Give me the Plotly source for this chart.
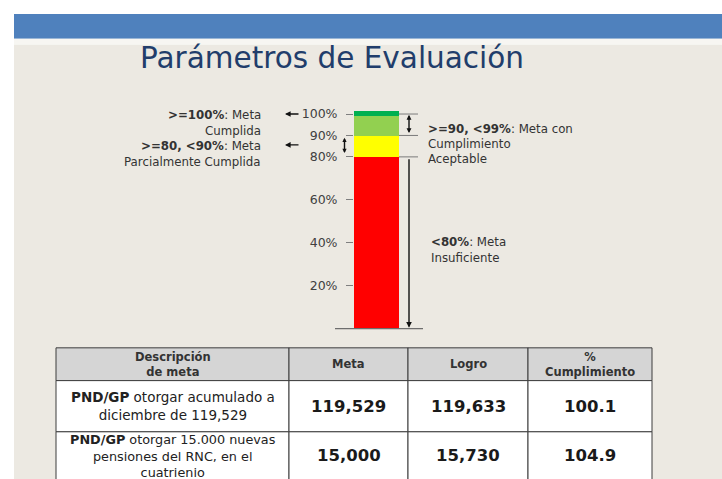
import plotly.graph_objects as go

W, H = 722, 479
FONT = "DejaVu Sans"

# ---------------- data ----------------
title_text = "Parámetros de Evaluación"

segment_names = ["<80%", ">=80, <90%", ">=90, <99%", ">=100%"]
segment_values = [80, 10, 9, 2.5]
segment_colors = ["#FF0000", "#FFFF00", "#92D050", "#00B050"]

tick_values = [20, 40, 60, 80, 90, 100]
tick_labels = ["20%", "40%", "60%", "80%", "90%", "100%"]

text_100 = ["<b>&gt;=100%</b>: Meta", "Cumplida"]
text_80_90 = ["<b>&gt;=80, &lt;90%</b>: Meta", "Parcialmente Cumplida"]
text_90_99 = ["<b>&gt;=90, &lt;99%</b>: Meta con", "Cumplimiento", "Aceptable"]
text_lt80 = ["<b>&lt;80%</b>: Meta", "Insuficiente"]

table_header = [["Descripción", "de meta"], ["Meta"], ["Logro"], ["%", "Cumplimiento"]]
descriptions = [
    ["<b>PND/GP</b> otorgar acumulado a", "diciembre de 119,529"],
    ["<b>PND/GP</b> otorgar 15.000 nuevas", "pensiones del RNC, en el", "cuatrienio"],
]
metas = [119529, 15000]
logros = [119633, 15730]
cumplimiento = [100.1, 104.9]

# ---------------- helpers (layout only) ----------------
def px(x):
    return x / W

def py(y):
    return 1 - y / H

fig = go.Figure()

# stacked bar
for name, v, c in zip(segment_names, segment_values, segment_colors):
    fig.add_trace(go.Bar(x=[0], y=[v], name=name, marker=dict(color=c, line=dict(width=0)),
                         showlegend=False, hoverinfo="skip"))

shapes = []
# backgrounds
shapes.append(dict(type="rect", xref="paper", yref="paper", x0=px(14), x1=1, y0=py(11), y1=py(36),
                   fillcolor="#4F81BD", line=dict(width=0), layer="below"))
shapes.append(dict(type="rect", xref="paper", yref="paper", x0=px(14), x1=1, y0=py(36), y1=py(42),
                   fillcolor="#F7F6F2", line=dict(width=0), layer="below"))
shapes.append(dict(type="rect", xref="paper", yref="paper", x0=px(14), x1=1, y0=0, y1=py(42),
                   fillcolor="#ECE9E2", line=dict(width=0), layer="below"))
# baseline
shapes.append(dict(type="line", xref="paper", yref="paper", x0=px(335), x1=px(423),
                   y0=py(327.6), y1=py(327.6), line=dict(color="#6E6E6E", width=1.2)))
# right guide lines at 100, 90, 80
for v in [100, 90, 80]:
    shapes.append(dict(type="line", xref="paper", yref="y", x0=px(399), x1=px(418),
                       y0=v, y1=v, line=dict(color="#7A7A7A", width=1)))

annotations = []

def arrow(x, y, ay=None, ax_px=0, both=False, size=0.8):
    d = dict(x=x, y=y, xref="paper", yref="y", text="", showarrow=True,
             arrowhead=2, startarrowhead=2, arrowsize=size, startarrowsize=size,
             arrowwidth=1.4, arrowcolor="#111111", standoff=0, startstandoff=0,
             arrowside="end+start" if both else "end")
    if ay is not None:
        d.update(axref="pixel", ax=ax_px, ayref="y", ay=ay)
    else:
        d.update(axref="pixel", ax=ax_px, ayref="pixel", ay=0)
    annotations.append(d)

arrow(px(409), 99.6, ay=90.4, both=True, size=0.7)
arrow(px(409), 0.3, ay=79.6, size=0.8)
arrow(px(344.5), 88.9, ay=81.1, both=True, size=0.6)
arrow(px(285), 100, ax_px=15, size=0.8)
arrow(px(285), 85.6, ax_px=15, size=0.8)

def text_lines(lines, x, ys, anchor, size, color="#333333", xref="paper", yref="paper"):
    for line, y in zip(lines, ys):
        annotations.append(dict(x=x, y=y, xref=xref, yref=yref, text=line, showarrow=False,
                                xanchor=anchor, yanchor="middle",
                                font=dict(family=FONT, size=size, color=color)))

def text_block(lines, x, y, anchor, size, color, xref, yref):
    annotations.append(dict(x=x, y=y, xref=xref, yref=yref, text="<br>".join(lines),
                            showarrow=False, xanchor=anchor, yanchor="middle", align="center",
                            font=dict(family=FONT, size=size, color=color)))

text_lines(text_100, px(263), [py(112.5), py(128.5)], "right", 11.8)
text_lines(text_80_90, px(263), [py(144), py(159.5)], "right", 11.8)
text_lines(text_90_99, px(426), [py(127), py(142), py(157)], "left", 11.8)
text_lines(text_lt80, px(429), [py(241), py(256.5)], "left", 11.8)

# title
annotations.append(dict(x=px(332), y=py(55), xref="paper", yref="paper", text=title_text,
                        showarrow=False, xanchor="center", yanchor="middle",
                        font=dict(family=FONT, size=29.5, color="#213D6B")))

# ---------------- table ----------------
col_widths = [233, 119, 120, 124]
row_heights = [33, 51.5, 48.5]
col_edges = [0]
for w in col_widths:
    col_edges.append(col_edges[-1] + w)
row_edges = [0]
for h in row_heights:
    row_edges.append(row_edges[-1] + h)

body_rows = []
for d, m, l, c in zip(descriptions, metas, logros, cumplimiento):
    body_rows.append([d, [f"<b>{m:,}</b>"], [f"<b>{l:,}</b>"], [f"<b>{c:.1f}</b>"]])

all_rows = [[[f"<b>{t}</b>" for t in cell] for cell in table_header]] + body_rows

for r in range(len(all_rows)):
    for ci in range(len(col_widths)):
        shapes.append(dict(type="rect", xref="x2", yref="y2",
                           x0=col_edges[ci], x1=col_edges[ci + 1],
                           y0=row_edges[r], y1=row_edges[r + 1],
                           fillcolor="#D5D5D5" if r == 0 else "#FFFFFF",
                           line=dict(color="#3C3C3C", width=1)))
        lines = all_rows[r][ci]
        cx = (col_edges[ci] + col_edges[ci + 1]) / 2
        cy = (row_edges[r] + row_edges[r + 1]) / 2
        if r == 0:
            size, color = 11.5, "#333333"
        elif ci == 0:
            size, color = (13.5 if len(lines) == 2 else 12.8), "#222222"
        else:
            size, color = 16.5, "#1A1A1A"
        text_block(lines, cx, cy, "center", size, color, "x2", "y2")

fig.update_layout(
    width=W, height=H,
    margin=dict(l=0, r=0, t=0, b=0),
    paper_bgcolor="#FFFFFF",
    plot_bgcolor="rgba(0,0,0,0)",
    barmode="stack", bargap=0,
    font=dict(family=FONT),
    showlegend=False,
    xaxis=dict(domain=[px(354), px(399)], range=[-0.5, 0.5], visible=False, fixedrange=True),
    yaxis=dict(domain=[py(327.4), py(107.4)], range=[0, 102], tickvals=tick_values,
               ticktext=tick_labels, ticks="outside", ticklen=7, tickcolor="#7F7F7F",
               tickwidth=1, showgrid=False, zeroline=False, showline=False,
               ticklabelstandoff=6,
               tickfont=dict(family=FONT, size=12.5, color="#404040")),
    xaxis2=dict(domain=[px(54), px(654)], range=[-2, 598], visible=False, anchor="y2"),
    yaxis2=dict(domain=[0, py(345)], range=[132, -2], visible=False, anchor="x2"),
    shapes=shapes,
    annotations=annotations,
)

fig.write_html("out.html",
               config={"displayModeBar": False},
               post_script="document.body.style.margin='0px';document.body.style.overflow='hidden';")
